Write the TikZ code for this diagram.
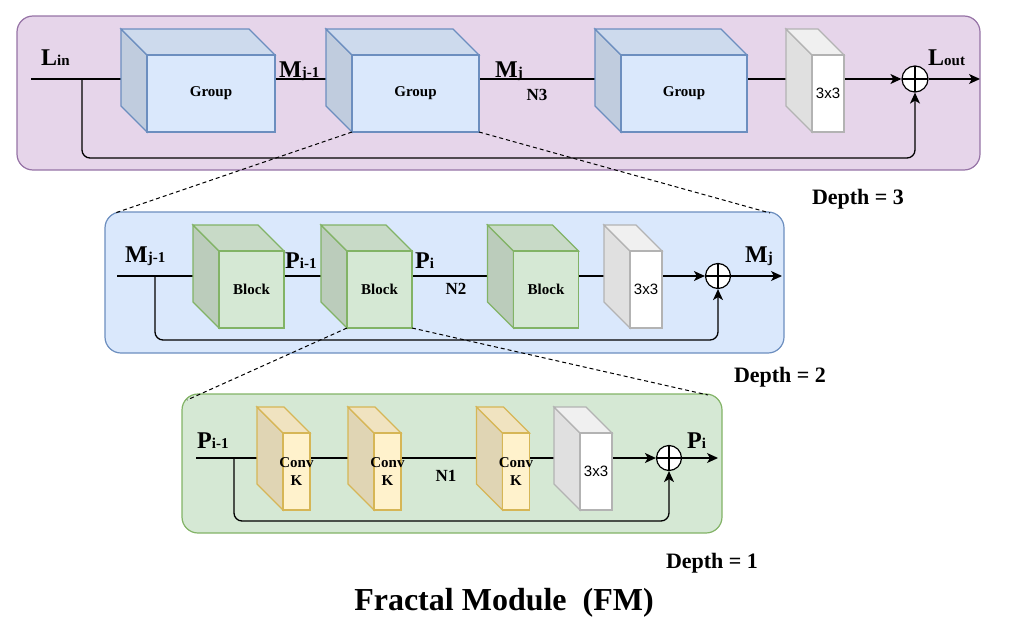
\documentclass[tikz,border=0pt]{standalone}
\usepackage{fontspec}
\setmainfont{Liberation Serif}
\setsansfont{Liberation Sans}
\usetikzlibrary{calc,arrows.meta}

\definecolor{pinkfill}{HTML}{E6D5EA}
\definecolor{pinkline}{HTML}{9673A6}
\definecolor{bluefill}{HTML}{DAE8FC}
\definecolor{blueline}{HTML}{6C8EBF}
\definecolor{greenfill}{HTML}{D5E8D4}
\definecolor{greenline}{HTML}{82B366}
\definecolor{yellowfill}{HTML}{FFF2CC}
\definecolor{yellowline}{HTML}{D6B656}
\definecolor{grayline}{HTML}{B3B3B3}

% big letter with its smaller index
\newcommand{\sym}[2]{\textbf{\fontsize{24}{24}\selectfont #1\fontsize{15}{15}\selectfont #2}}

% cube: name, centre of front face, width, fill, line, text
\newcommand{\cube}[6]{%
  \coordinate (#1c) at #2;
  \filldraw[fill=#4!88!black, draw=#5, line width=1.2pt] ($(#1c)+(-#3/2,-38.5)$) -- ++(-26,-26) -- ++(0,77) -- ++(26,26) -- cycle;
  \filldraw[fill=#4!94!black, draw=#5, line width=1.2pt] ($(#1c)+(-#3/2,-38.5)$) -- ++(-26,-26) -- ++(#3,0) -- ++(26,26) -- cycle;
  \node[face, minimum width=#3pt, fill=#4, draw=#5] (#1) at (#1c) {};
  \node[facetext] (#1t) at (#1c) {#6};
}

\begin{document}
\begin{tikzpicture}[x=1pt, y=-1pt,
    panel/.style={rectangle, rounded corners=16pt, line width=1.2pt, inner sep=0pt, outer sep=0pt},
    face/.style={rectangle, minimum height=77pt, inner sep=0pt, outer sep=0pt, line width=1.2pt},
    facetext/.style={font=\bfseries\fontsize{15}{18}\selectfont, align=center, inner sep=0pt},
    sum/.style={circle, draw, fill=white, line width=1.2pt, inner sep=0pt, minimum size=25pt,
      path picture={\draw[line width=1.2pt] (path picture bounding box.north) -- (path picture bounding box.south)
        (path picture bounding box.west) -- (path picture bounding box.east);}},
    wire/.style={line width=1.3pt},
    arr/.style={-{Stealth[length=11pt, width=10pt, inset=3pt]}},
    zoomline/.style={line width=1pt, dash pattern=on 4pt off 3pt},
    lbl/.style={anchor=base west, inner sep=0pt},
    nlbl/.style={font=\bfseries\fontsize{17}{17}\selectfont},
    depth/.style={font=\bfseries\fontsize{22}{22}\selectfont},
  ]
  \useasboundingbox (0,0) rectangle (1010,640);

  % the three levels
  \node[panel, fill=pinkfill, draw=pinkline, minimum width=963pt, minimum height=154pt] (p3) at (498.5,93) {};
  \node[panel, fill=bluefill, draw=blueline, minimum width=679pt, minimum height=141pt] (p2) at (444.5,282.5) {};
  \node[panel, fill=greenfill, draw=greenline, minimum width=540pt, minimum height=139pt] (p1) at (452,463.5) {};

  % depth 3
  \coordinate (in3) at (31,79);
  \coordinate (split3) at (82,79);
  \coordinate (bend3) at (82,158);
  \coordinate (out3) at (980,79);
  \node[sum, minimum size=26pt] (sum3) at (915,79) {};
  \draw[wire, arr] (in3) -- (sum3);
  \draw[wire, arr, rounded corners=8pt] (split3) -- (bend3) -| (sum3);
  \draw[wire, arr] (sum3) -- (out3);
  \cube{g1}{(211,93.5)}{128}{bluefill}{blueline}{Group}
  \cube{g2}{(415.5,93.5)}{127}{bluefill}{blueline}{Group}
  \cube{g3}{(684,93.5)}{126}{bluefill}{blueline}{Group}
  \cube{t3}{(828,93.5)}{32}{white}{grayline}{\sffamily\mdseries 3x3}

  % depth 2
  \coordinate (in2) at (117,276);
  \coordinate (split2) at (155,276);
  \coordinate (bend2) at (155,340);
  \coordinate (out2) at (782,276);
  \node[sum] (sum2) at (718,276) {};
  \draw[wire, arr] (in2) -- (sum2);
  \draw[wire, arr, rounded corners=8pt] (split2) -- (bend2) -| (sum2);
  \draw[wire, arr] (sum2) -- (out2);
  \cube{b1}{(251.5,289.5)}{65}{greenfill}{greenline}{Block}
  \cube{b2}{(379.5,289.5)}{65}{greenfill}{greenline}{Block}
  \cube{b3}{(546,289.5)}{65}{greenfill}{greenline}{Block}
  \cube{t2}{(646,289.5)}{32}{white}{grayline}{\sffamily\mdseries 3x3}

  % depth 1
  \coordinate (in1) at (196,458);
  \coordinate (split1) at (234,458);
  \coordinate (bend1) at (234,521);
  \coordinate (out1) at (718,458);
  \node[sum] (sum1) at (669,458) {};
  \draw[wire, arr] (in1) -- (sum1);
  \draw[wire, arr, rounded corners=8pt] (split1) -- (bend1) -| (sum1);
  \draw[wire, arr] (sum1) -- (out1);
  \cube{c1}{(296.5,471.5)}{27}{yellowfill}{yellowline}{Conv\\K}
  \cube{c2}{(387.5,471.5)}{27}{yellowfill}{yellowline}{Conv\\K}
  \cube{c3}{(516,471.5)}{27}{yellowfill}{yellowline}{Conv\\K}
  \cube{t1}{(596,471.5)}{32}{white}{grayline}{\sffamily\mdseries 3x3}

  % labels
  \node[lbl] (lin) at (41,65) {\sym{L}{in}};
  \node[lbl] (mj1a) at (279,77) {\sym{M}{j-1}};
  \node[lbl] (mja) at (495,77) {\sym{M}{j}};
  \node[nlbl] (n3) at (537,95) {N3};
  \node[lbl] (lout) at (928,65) {\sym{L}{out}};

  \node[lbl] (mj1b) at (125,262) {\sym{M}{j-1}};
  \node[lbl] (pi1a) at (285,268) {\sym{P}{i-1}};
  \node[lbl] (pia) at (415,268) {\sym{P}{i}};
  \node[nlbl] (n2) at (456,289) {N2};
  \node[lbl] (mjb) at (745,262) {\sym{M}{j}};

  \node[lbl] (pi1b) at (197,448) {\sym{P}{i-1}};
  \node[lbl] (pib) at (687,448) {\sym{P}{i}};
  \node[nlbl] (n1) at (446,476) {N1};

  \node[depth] (d3) at (858,199) {Depth = 3};
  \node[depth] (d2) at (780,377) {Depth = 2};
  \node[depth] (d1) at (712,563) {Depth = 1};
  \node[font=\bfseries\fontsize{32}{32}\selectfont] (title) at (504,603) {Fractal Module\ \ (FM)};

  % zoom lines
  \draw[zoomline] (g2.south west) -- ($(p2.north west)+(10,1)$);
  \draw[zoomline] (g2.south east) -- ($(p2.north east)+(-14,1)$);
  \draw[zoomline] (b2.south west) -- ($(p1.north west)+(5,6)$);
  \draw[zoomline] (b2.south east) -- ($(p1.north east)+(-14,1)$);
\end{tikzpicture}
\end{document}
